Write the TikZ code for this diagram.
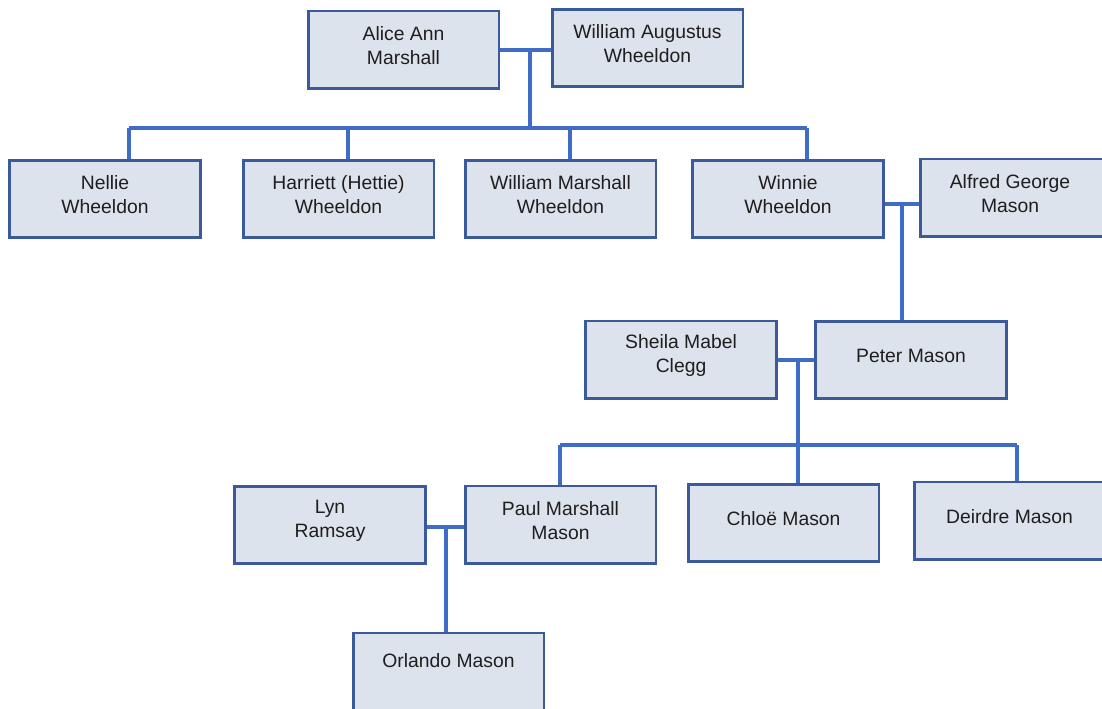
\documentclass[tikz,border=0pt]{standalone}
\usepackage{fontspec}
\setmainfont{Liberation Sans}
\usetikzlibrary{positioning, calc}
\definecolor{BoxFill}{RGB}{221, 227, 237}
\definecolor{BoxEdge}{RGB}{58, 90, 156}
\definecolor{LinkBlue}{RGB}{62, 108, 198}
\definecolor{NameInk}{RGB}{30, 30, 30}

\begin{document}
\begin{tikzpicture}[x=0.75pt, y=-0.75pt,
        person/.style={rectangle, draw=BoxEdge, fill=BoxFill, line width=2pt,
            minimum width=143pt, minimum height=58pt, inner sep=0pt},
        who/.style={align=center, text=NameInk, inner sep=0pt,
            font=\fontsize{14.5pt}{18pt}\selectfont},
        link/.style={draw=LinkBlue, line width=2.6pt}]
    \useasboundingbox (0,0) rectangle (1102,708);
    \clip (0,0) rectangle (1102,708);
    \def\up{3.2pt}
    % generation 1
    \node[person] (alice) at (403.5,49.5) {};
    \node[who] (alice-t) at ([yshift=\up]alice) {Alice Ann\\Marshall};
    \node[person] (william) at (647.5,48) {};
    \node[who] (william-t) at ([yshift=\up]william) {William Augustus\\Wheeldon};
    % generation 2
    \node[person] (nellie) at (105,199) {};
    \node[who] (nellie-t) at ([yshift=\up]nellie) {Nellie\\Wheeldon};
    \node[person] (hettie) at (338.5,199) {};
    \node[who] (hettie-t) at ([yshift=\up]hettie) {Harriett (Hettie)\\Wheeldon};
    \node[person] (wmw) at (560.5,199) {};
    \node[who] (wmw-t) at ([yshift=\up]wmw) {William Marshall\\Wheeldon};
    \node[person] (winnie) at (788,199) {};
    \node[who] (winnie-t) at ([yshift=\up]winnie) {Winnie\\Wheeldon};
    \node[person] (alfred) at (1015.5,197.5) {};
    \node[who] (alfred-t) at ([yshift=\up]alfred.center -| 1010,0) {Alfred George\\Mason};
    % generation 3
    \node[person] (sheila) at (681,359.5) {};
    \node[who] (sheila-t) at ([yshift=\up]sheila) {Sheila Mabel\\Clegg};
    \node[person] (peter) at (911,360) {};
    \node[who] (peter-t) at ([yshift=\up]peter) {Peter Mason};
    % generation 4
    \node[person] (lyn) at (330,525) {};
    \node[who] (lyn-t) at ([yshift=\up]lyn) {Lyn\\Ramsay};
    \node[person] (paul) at (560.5,524.5) {};
    \node[who] (paul-t) at ([yshift=\up]paul) {Paul Marshall\\Mason};
    \node[person] (chloe) at (783.5,523) {};
    \node[who] (chloe-t) at ([yshift=\up]chloe) {Chloë Mason};
    \node[person] (deirdre) at (1009.5,520.5) {};
    \node[who] (deirdre-t) at ([yshift=\up]deirdre) {Deirdre Mason};
    % generation 5
    \node[person] (orlando) at (448.5,671.5) {};
    \node[who] (orlando-t) at ([yshift=\up]orlando.north |- 0,665) {Orlando Mason};

    % marriage points and sibling bars
    \coordinate (aw) at (530,50);
    \coordinate (bar1) at (530,128);
    \coordinate (d-nellie) at (129,128);
    \coordinate (d-hettie) at (348,128);
    \coordinate (d-wmw) at (570,128);
    \coordinate (d-winnie) at (807,128);
    \coordinate (wa) at (902,204);
    \coordinate (sp) at (798,360);
    \coordinate (bar2) at (798,445);
    \coordinate (d-paul) at (560,445);
    \coordinate (d-deirdre) at (1017,445);
    \coordinate (lp) at (446,527);

    \draw[link] (alice.east |- aw) -- (william.west |- aw);
    \draw[link] (aw) -- (bar1);
    \draw[link] (d-nellie) -- (d-winnie);
    \foreach \kid in {nellie, hettie, wmw, winnie}
        \draw[link] (d-\kid) -- (d-\kid |- \kid.north);

    \draw[link] (winnie.east |- wa) -- (alfred.west |- wa);
    \draw[link] (wa) -- (wa |- peter.north);

    \draw[link] (sheila.east |- sp) -- (peter.west |- sp);
    \draw[link] (sp) -- (bar2);
    \draw[link] (d-paul) -- (d-deirdre);
    \draw[link] (d-paul) -- (d-paul |- paul.north);
    \draw[link] (bar2) -- (bar2 |- chloe.north);
    \draw[link] (d-deirdre) -- (d-deirdre |- deirdre.north);

    \draw[link] (lyn.east |- lp) -- (paul.west |- lp);
    \draw[link] (lp) -- (lp |- orlando.north);
\end{tikzpicture}
\end{document}
